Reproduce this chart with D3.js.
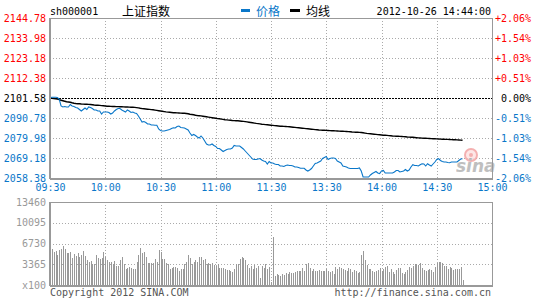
<!DOCTYPE html>
<html>
<head>
<meta charset="utf-8">
<script src="https://cdn.jsdelivr.net/npm/d3@7"></script>
<style>
  html, body { margin: 0; padding: 0; background: #fff; }
  svg { display: block; }
  .mono { font-family: "DejaVu Sans Mono", "Liberation Mono", monospace; font-size: 10px; }
  .cjk { font-family: "Noto Sans CJK SC", sans-serif; font-size: 12px; }
</style>
</head>
<body>
<svg id="chart" width="545" height="300"></svg>
<script>
// ---------- DATA ----------
const symbol = "sh000001";
const indexName = "上证指数";
const legendPrice = "价格";
const legendAvg = "均线";
const stamp = "2012-10-26 14:44:00";
const copyright = "Copyright 2012 SINA.COM";
const siteUrl = "http://finance.sina.com.cn";

const timeTicks = [0, 30, 60, 90, 120, 150, 180, 210, 240];
const timeLabels = ["09:30", "10:00", "10:30", "11:00", "11:30", "13:30", "14:00", "14:30", "15:00"];

const prevClose = 2101.58;
const priceTicks = [2144.78, 2133.98, 2123.18, 2112.38, 2101.58, 2090.78, 2079.98, 2069.18, 2058.38];
const priceLabels = ["2144.78", "2133.98", "2123.18", "2112.38", "2101.58", "2090.78", "2079.98", "2069.18", "2058.38"];
const pctLabels = ["+2.06%", "+1.54%", "+1.03%", "+0.51%", "0.00%", "-0.51%", "-1.03%", "-1.54%", "-2.06%"];

const volTicks = [13460, 10095, 6730, 3365, 0];
const volLabels = ["13460", "10095", "6730", "3365", "x100"];

// price per minute (index 0 = 09:30, 120 = 11:30, 121.. = afternoon)
const price = [
  2101.74, 2101.96, 2101.96, 2101.96, 2101.85, 2101.04, 2097.26, 2096.72, 2096.99, 2096.72,
  2096.72, 2098.07, 2097.26, 2096.99, 2096.45, 2096.18, 2095.37, 2094.56, 2095.37, 2096.18,
  2095.37, 2096.72, 2096.45, 2095.91, 2095.10, 2095.10, 2094.56, 2094.56, 2092.94, 2094.02,
  2094.02, 2094.02, 2093.75, 2092.94, 2093.48, 2094.56, 2095.37, 2095.91, 2095.91, 2095.10,
  2094.56, 2094.02, 2095.10, 2094.56, 2093.75, 2094.02, 2093.48, 2093.21, 2091.86, 2090.24,
  2088.62, 2088.89, 2088.35, 2087.54, 2087.54, 2087.00, 2087.00, 2086.84, 2086.84, 2084.84,
  2084.03, 2083.76, 2083.76, 2084.03, 2084.30, 2084.57, 2085.11, 2085.54, 2085.38, 2086.19,
  2086.46, 2085.65, 2085.54, 2085.38, 2084.84, 2084.30, 2082.68, 2081.33, 2081.87, 2081.33,
  2080.52, 2079.98, 2081.06, 2079.98, 2078.36, 2076.74, 2076.20, 2076.20, 2076.74, 2075.93,
  2075.39, 2074.31, 2074.31, 2073.50, 2072.69, 2073.23, 2073.77, 2074.04, 2074.04, 2074.58,
  2075.93, 2075.66, 2075.66, 2075.66, 2074.85, 2074.04, 2072.96, 2071.88, 2070.80, 2069.72,
  2068.64, 2068.37, 2068.37, 2068.64, 2068.91, 2068.10, 2067.56, 2067.29, 2065.94, 2067.29,
  2066.48, 2066.48, 2065.94, 2065.67, 2065.67, 2064.86, 2064.86, 2064.59, 2065.13, 2065.40,
  2065.13, 2065.13, 2064.86, 2064.32, 2064.32, 2064.05, 2063.62, 2063.62, 2063.62, 2062.70,
  2062.16, 2062.70, 2063.51, 2064.86, 2066.21, 2066.48, 2067.02, 2067.56, 2068.91, 2069.45,
  2069.99, 2068.37, 2068.91, 2069.18, 2069.18, 2068.91, 2067.56, 2067.02, 2066.48, 2064.86,
  2064.59, 2064.32, 2063.78, 2063.51, 2063.51, 2063.51, 2063.51, 2063.51, 2063.78, 2062.16,
  2058.92, 2058.92, 2058.92, 2058.92, 2060.00, 2060.81, 2061.35, 2061.89, 2061.08, 2060.81,
  2062.16, 2062.43, 2061.08, 2061.08, 2061.08, 2061.08, 2061.08, 2061.62, 2062.43, 2062.43,
  2061.62, 2061.89, 2062.16, 2062.97, 2062.16, 2062.70, 2064.32, 2065.56, 2065.13, 2065.13,
  2064.86, 2065.56, 2066.10, 2065.94, 2064.86, 2066.10, 2065.40, 2064.86, 2065.94, 2067.02,
  2068.37, 2068.80, 2067.83, 2067.29, 2067.02, 2067.02, 2066.75, 2066.64, 2067.02, 2067.02,
  2067.02, 2067.02, 2067.83, 2068.64, 2068.80
];

const avgPrice = [
  2101.58, 2101.42, 2101.31, 2101.20, 2101.04, 2100.77, 2100.34, 2100.07, 2099.80, 2099.53,
  2099.42, 2099.26, 2098.99, 2098.77, 2098.61, 2098.50, 2098.45, 2098.34, 2098.29, 2098.23,
  2098.18, 2098.12, 2098.07, 2097.96, 2097.80, 2097.69, 2097.64, 2097.58, 2097.48, 2097.37,
  2097.26, 2097.15, 2097.10, 2097.05, 2096.99, 2096.99, 2096.94, 2096.94, 2096.88, 2096.83,
  2096.77, 2096.72, 2096.72, 2096.67, 2096.61, 2096.56, 2096.50, 2096.40, 2096.23, 2096.02,
  2095.86, 2095.75, 2095.64, 2095.53, 2095.42, 2095.32, 2095.21, 2095.05, 2094.88, 2094.72,
  2094.56, 2094.40, 2094.24, 2094.07, 2093.97, 2093.86, 2093.75, 2093.64, 2093.59, 2093.53,
  2093.48, 2093.43, 2093.37, 2093.32, 2093.21, 2093.05, 2092.83, 2092.67, 2092.51, 2092.29,
  2092.13, 2092.02, 2091.91, 2091.75, 2091.59, 2091.43, 2091.27, 2091.10, 2090.94, 2090.78,
  2090.62, 2090.46, 2090.35, 2090.19, 2090.02, 2089.86, 2089.75, 2089.65, 2089.54, 2089.43,
  2089.38, 2089.32, 2089.27, 2089.16, 2089.05, 2088.94, 2088.84, 2088.67, 2088.51, 2088.35,
  2088.19, 2088.03, 2087.86, 2087.76, 2087.59, 2087.43, 2087.32, 2087.22, 2087.11, 2087.00,
  2086.89, 2086.78, 2086.68, 2086.57, 2086.46, 2086.35, 2086.30, 2086.24, 2086.19, 2086.14,
  2086.03, 2085.92, 2085.81, 2085.70, 2085.60, 2085.49, 2085.38, 2085.27, 2085.16, 2085.06,
  2084.95, 2084.84, 2084.73, 2084.62, 2084.52, 2084.41, 2084.30, 2084.25, 2084.19, 2084.14,
  2084.08, 2084.03, 2083.98, 2083.92, 2083.87, 2083.81, 2083.76, 2083.71, 2083.65, 2083.60,
  2083.54, 2083.49, 2083.44, 2083.33, 2083.22, 2083.17, 2083.11, 2083.06, 2083.00, 2082.95,
  2082.79, 2082.63, 2082.46, 2082.36, 2082.25, 2082.14, 2082.03, 2081.92, 2081.82, 2081.71,
  2081.60, 2081.49, 2081.44, 2081.38, 2081.28, 2081.17, 2081.06, 2081.01, 2080.95, 2080.90,
  2080.84, 2080.79, 2080.74, 2080.63, 2080.52, 2080.47, 2080.41, 2080.36, 2080.25, 2080.14,
  2080.03, 2079.98, 2079.93, 2079.87, 2079.82, 2079.76, 2079.71, 2079.66, 2079.60, 2079.55,
  2079.49, 2079.44, 2079.39, 2079.33, 2079.28, 2079.25, 2079.22, 2079.17, 2079.12, 2079.06,
  2079.01, 2078.95, 2078.90, 2078.85, 2078.79
];

// volume per minute (x100 lots)
const volume = [
  5825, 5825, 5286, 5501, 4854, 5663, 5825, 6310, 5825, 5124,
  5124, 5286, 4315, 4962, 4692, 5124, 4584, 4854, 5501, 4692,
  4045, 3775, 3883, 3398, 3398, 4854, 4315, 4207, 4315, 5286,
  4477, 4045, 3721, 3721, 3344, 3883, 3074, 3074, 4045, 4477,
  3344, 2642, 2804, 2912, 2697, 2642, 2589, 3775, 4800, 5933,
  5124, 5286, 4477, 3506, 3613, 3506, 3506, 4153, 3775, 5663,
  5393, 4153, 4207, 3613, 3344, 2589, 2804, 2912, 2966, 2804,
  2265, 2589, 2589, 3344, 3668, 4854, 4315, 3344, 3668, 4045,
  3775, 4477, 4584, 4045, 4207, 3344, 3506, 3344, 3506, 3236,
  3074, 3344, 2804, 2697, 2804, 2589, 2427, 2427, 2319, 2157,
  2589, 3344, 3344, 4153, 4584, 4422, 4045, 3236, 2697, 3128,
  2535, 3236, 2804, 3128, 1079, 3074, 2697, 3344, 2589, 2966,
  540, 7713, 1456, 1780, 1618, 1456, 1780, 1618, 1995, 1780,
  2157, 1995, 1888, 2157, 2319, 2319, 2319, 2697, 2319, 3344,
  3613, 2697, 2319, 2589, 2265, 2265, 2427, 2265, 2265, 2265,
  2589, 2265, 2157, 2265, 1780, 2858, 2589, 2858, 2697, 2589,
  2427, 2319, 2697, 2535, 2157, 2427, 2319, 1995, 2157, 4854,
  5555, 4045, 3236, 2589, 2589, 2265, 2157, 2265, 2427, 2697,
  2265, 2535, 2966, 3074, 2157, 2589, 2157, 1780, 2427, 2697,
  2697, 1995, 1780, 2157, 2427, 2858, 2697, 3074, 3344, 3398,
  3236, 3506, 2697, 2427, 2319, 2427, 2589, 2427, 2157, 2858,
  3613, 3775, 3668, 3506, 3074, 3074, 2535, 2966, 2697, 2427,
  2535, 2535, 2535, 2966, 809
];

// ---------- COLORS ----------
const BLUE = "#0a77c9";
const RED = "#ff0000";
const GRID = "#aaaaaa";
const FRAME = "#999999";

// ---------- SCALES ----------
const svg = d3.select("#chart");
const L = 50, R = 492, PT = 18, PB = 178, VT = 202, VB = 285;

const x = d3.scaleLinear().domain([0, 240]).range([L, R]);
const y = d3.scaleLinear().domain([2058.38, 2144.78]).range([PB, PT]);
const yv = d3.scaleLinear().domain([0, 13460]).range([VB, VT]);

// ---------- GRID ----------
const grid = svg.append("g").attr("shape-rendering", "crispEdges");
grid.selectAll(".hp").data(priceTicks.filter(v => v !== priceTicks[0] && v !== priceTicks[8] && v !== prevClose))
  .join("line")
  .attr("x1", L).attr("x2", R)
  .attr("y1", d => Math.round(y(d)) + 0.5).attr("y2", d => Math.round(y(d)) + 0.5)
  .attr("stroke", GRID).attr("stroke-dasharray", "1,2");
grid.selectAll(".vp").data(timeTicks.slice(1, -1))
  .join("line")
  .attr("x1", d => Math.round(x(d)) + 0.5).attr("x2", d => Math.round(x(d)) + 0.5)
  .attr("y1", PT).attr("y2", PB)
  .attr("stroke", GRID).attr("stroke-dasharray", "1,2");
grid.selectAll(".vv").data(timeTicks.slice(1, -1))
  .join("line")
  .attr("x1", d => Math.round(x(d)) + 0.5).attr("x2", d => Math.round(x(d)) + 0.5)
  .attr("y1", VT).attr("y2", VB)
  .attr("stroke", GRID).attr("stroke-dasharray", "1,2");
grid.selectAll(".hv").data(volTicks.slice(1, -1))
  .join("line")
  .attr("x1", L).attr("x2", R)
  .attr("y1", d => Math.round(yv(d)) + 0.5).attr("y2", d => Math.round(yv(d)) + 0.5)
  .attr("stroke", GRID).attr("stroke-dasharray", "1,2");

// ---------- VOLUME BARS ----------
svg.append("g").attr("shape-rendering", "crispEdges")
  .selectAll("rect").data(volume).join("rect")
  .attr("x", (d, i) => Math.round(x(i)))
  .attr("width", 1)
  .attr("y", d => Math.round(yv(d)))
  .attr("height", d => VB - Math.round(yv(d)))
  .attr("fill", "#999999");

// ---------- WATERMARK ----------
const wm = svg.append("g").attr("opacity", 0.85);
wm.append("circle").attr("cx", 471).attr("cy", 155).attr("r", 6)
  .attr("fill", "#fde3e3").attr("stroke", "#f3a3a3").attr("stroke-width", 2);
wm.append("circle").attr("cx", 471).attr("cy", 155).attr("r", 2).attr("fill", "#f3a3a3");
wm.append("text").attr("x", 456).attr("y", 172)
  .attr("font-family", "DejaVu Sans, sans-serif").attr("font-size", 17)
  .attr("font-weight", "bold").attr("font-style", "italic")
  .attr("fill", "#b5b5b5").text("sina");

// ---------- PREV CLOSE LINE ----------
svg.append("line")
  .attr("x1", L).attr("x2", R)
  .attr("y1", Math.round(y(prevClose)) + 0.5).attr("y2", Math.round(y(prevClose)) + 0.5)
  .attr("stroke", "#000").attr("stroke-dasharray", "2,1").attr("shape-rendering", "crispEdges");

// ---------- LINES ----------
const line = d3.line().x((d, i) => x(i)).y(d => y(d));
svg.append("path").datum(avgPrice).attr("d", line)
  .attr("fill", "none").attr("stroke", "#000").attr("stroke-width", 1.4);
svg.append("path").datum(price).attr("d", line)
  .attr("fill", "none").attr("stroke", BLUE).attr("stroke-width", 1.1);

// ---------- FRAMES ----------
const frames = svg.append("g").attr("shape-rendering", "crispEdges").attr("fill", "none").attr("stroke", FRAME);
frames.append("rect").attr("x", L + 0.5).attr("y", PT + 0.5).attr("width", R - L).attr("height", PB - PT);
frames.append("rect").attr("x", L + 0.5).attr("y", VT + 0.5).attr("width", R - L).attr("height", VB - VT);
frames.append("line").attr("x1", L).attr("x2", L).attr("y1", PT).attr("y2", PB + 1).attr("stroke-width", 2);
frames.append("line").attr("x1", L).attr("x2", L).attr("y1", VT).attr("y2", VB + 1).attr("stroke-width", 2);
frames.append("line").attr("x1", L).attr("x2", R + 1).attr("y1", PB + 1).attr("y2", PB + 1).attr("stroke-width", 1);
frames.append("line").attr("x1", L).attr("x2", R + 1).attr("y1", VB + 1).attr("y2", VB + 1).attr("stroke-width", 1);

// ---------- AXES ----------
function styleAxis(g) {
  g.select(".domain").remove();
  g.selectAll(".tick line").remove();
  g.selectAll("text").attr("class", "mono").attr("font-family", null).attr("font-size", null);
}
const priceColor = d => d > prevClose + 0.001 ? RED : (d < prevClose - 0.001 ? BLUE : "#000");

svg.append("g").attr("transform", `translate(${L},0)`)
  .call(d3.axisLeft(y).tickValues(priceTicks).tickFormat((d, i) => priceLabels[i]).tickSize(0).tickPadding(4))
  .call(styleAxis)
  .selectAll("text").attr("fill", d => priceColor(d));

svg.append("g").attr("transform", `translate(${R},0)`)
  .call(d3.axisRight(y).tickValues(priceTicks).tickFormat((d, i) => pctLabels[i]).tickSize(0).tickPadding(39))
  .call(styleAxis)
  .selectAll("text").attr("fill", d => priceColor(d)).attr("text-anchor", "end");

svg.append("g").attr("transform", `translate(0,${PB})`)
  .call(d3.axisBottom(x).tickValues(timeTicks).tickFormat((d, i) => timeLabels[i]).tickSize(0).tickPadding(6))
  .call(styleAxis)
  .selectAll("text").attr("fill", BLUE);

svg.append("g").attr("transform", `translate(${L},0)`)
  .call(d3.axisLeft(yv).tickValues(volTicks).tickFormat((d, i) => volLabels[i]).tickSize(0).tickPadding(4))
  .call(styleAxis)
  .selectAll("text").attr("fill", "#999999");

// ---------- HEADER ----------
svg.append("text").attr("class", "mono").attr("x", 50).attr("y", 15).attr("fill", "#000").text(symbol);
svg.append("text").attr("class", "cjk").attr("x", 122).attr("y", 15.5).attr("fill", "#000").text(indexName);
svg.append("rect").attr("x", 241).attr("y", 9).attr("width", 9).attr("height", 3).attr("fill", BLUE);
svg.append("text").attr("class", "cjk").attr("x", 256).attr("y", 15.5).attr("fill", BLUE).text(legendPrice);
svg.append("rect").attr("x", 290).attr("y", 9).attr("width", 10).attr("height", 3).attr("fill", "#000");
svg.append("text").attr("class", "cjk").attr("x", 306).attr("y", 15.5).attr("fill", "#000").text(legendAvg);
svg.append("text").attr("class", "mono").attr("x", 491).attr("y", 15).attr("text-anchor", "end").attr("fill", "#000").text(stamp);

// ---------- FOOTER ----------
svg.append("text").attr("class", "mono").attr("x", 50).attr("y", 296).attr("fill", "#555").text(copyright);
svg.append("text").attr("class", "mono").attr("x", 491).attr("y", 296).attr("text-anchor", "end").attr("fill", "#555").text(siteUrl);
</script>
</body>
</html>
